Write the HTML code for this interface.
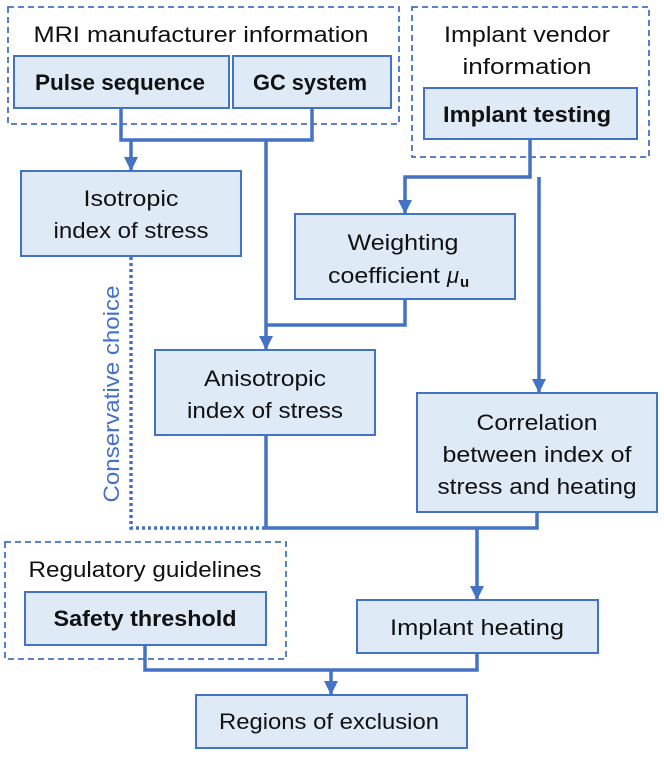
<!DOCTYPE html>
<html><head><meta charset="utf-8"><style>
html,body{margin:0;padding:0;background:#fff}
svg text{font-family:"Liberation Sans",sans-serif;fill:#111}
</style></head><body>
<svg width="664" height="753" viewBox="0 0 664 753" xmlns="http://www.w3.org/2000/svg">
<defs>
<marker id="a" viewBox="0 0 10 10" refX="10" refY="5" markerWidth="4.5" markerHeight="4" orient="auto" markerUnits="strokeWidth"><path d="M0,0L10,5L0,10z" fill="#4472C4"/></marker>
</defs>
<g fill="none" stroke="#4472C4" stroke-width="1.8" stroke-dasharray="6,4">
<rect x="8" y="7" width="391" height="117"/>
<rect x="412" y="7" width="237" height="150"/>
<rect x="5" y="542" width="281" height="117"/>
</g>
<g fill="#DEEBF7" stroke="#4472C4" stroke-width="2">
<rect x="14" y="56" width="215" height="52"/>
<rect x="233" y="56" width="158" height="52"/>
<rect x="424" y="88" width="213" height="51"/>
<rect x="21" y="171" width="220" height="85"/>
<rect x="295" y="214" width="220" height="85"/>
<rect x="155" y="350" width="220" height="85"/>
<rect x="417" y="393" width="240" height="119"/>
<rect x="25" y="592" width="241" height="53"/>
<rect x="357" y="600" width="241" height="53"/>
<rect x="196" y="695" width="271" height="53"/>
</g>
<g fill="none" stroke="#4472C4" stroke-width="3.5">
<path d="M121,108V140H312V108"/>
<path d="M131,140V171" marker-end="url(#a)"/>
<path d="M266,140V350" marker-end="url(#a)"/>
<path d="M405,299V325H266"/>
<path d="M530,139V177H405V214" marker-end="url(#a)"/>
<path d="M539,177V393" marker-end="url(#a)"/>
<path d="M266,435V528H537V512"/>
<path d="M477,528V600" marker-end="url(#a)"/>
<path d="M145,645V670H477V653"/>
<path d="M331,670V695" marker-end="url(#a)"/>
</g>
<path d="M131,257V528H266" fill="none" stroke="#4472C4" stroke-width="3.5" stroke-dasharray="3,3"/>
<g font-size="22" text-anchor="middle">
<text x="201" y="42" textLength="335" lengthAdjust="spacingAndGlyphs">MRI manufacturer information</text>
<text x="527" y="42" textLength="166" lengthAdjust="spacingAndGlyphs">Implant vendor</text>
<text x="527" y="74" textLength="129" lengthAdjust="spacingAndGlyphs">information</text>
<text x="145" y="577" textLength="233" lengthAdjust="spacingAndGlyphs">Regulatory guidelines</text>
<g font-weight="bold">
<text x="120" y="90" textLength="170" lengthAdjust="spacingAndGlyphs">Pulse sequence</text>
<text x="310" y="90" textLength="114" lengthAdjust="spacingAndGlyphs">GC system</text>
<text x="527" y="122" textLength="168" lengthAdjust="spacingAndGlyphs">Implant testing</text>
<text x="145" y="626" textLength="183" lengthAdjust="spacingAndGlyphs">Safety threshold</text>
</g>
<text x="131" y="206" textLength="95" lengthAdjust="spacingAndGlyphs">Isotropic</text>
<text x="131" y="238" textLength="155" lengthAdjust="spacingAndGlyphs">index of stress</text>
<text x="403" y="250" textLength="111" lengthAdjust="spacingAndGlyphs">Weighting</text>
<text x="384" y="283" textLength="112" lengthAdjust="spacingAndGlyphs">coefficient</text>
<text x="447" y="283" font-family="Liberation Serif" font-style="italic" text-anchor="start">μ</text>
<text x="460" y="287" font-family="Liberation Serif" font-weight="bold" font-size="15" text-anchor="start">u</text>
<text x="265" y="386" textLength="122" lengthAdjust="spacingAndGlyphs">Anisotropic</text>
<text x="265" y="418" textLength="156" lengthAdjust="spacingAndGlyphs">index of stress</text>
<text x="537" y="430" textLength="121" lengthAdjust="spacingAndGlyphs">Correlation</text>
<text x="537" y="462" textLength="189" lengthAdjust="spacingAndGlyphs">between index of</text>
<text x="537" y="494" textLength="199" lengthAdjust="spacingAndGlyphs">stress and heating</text>
<text x="477" y="635" textLength="174" lengthAdjust="spacingAndGlyphs">Implant heating</text>
<text x="329" y="729" textLength="220" lengthAdjust="spacingAndGlyphs">Regions of exclusion</text>
<text transform="translate(119,394) rotate(-90)" style="fill:#4472C4" textLength="217" lengthAdjust="spacingAndGlyphs">Conservative choice</text>
</g>
</svg>
</body></html>
